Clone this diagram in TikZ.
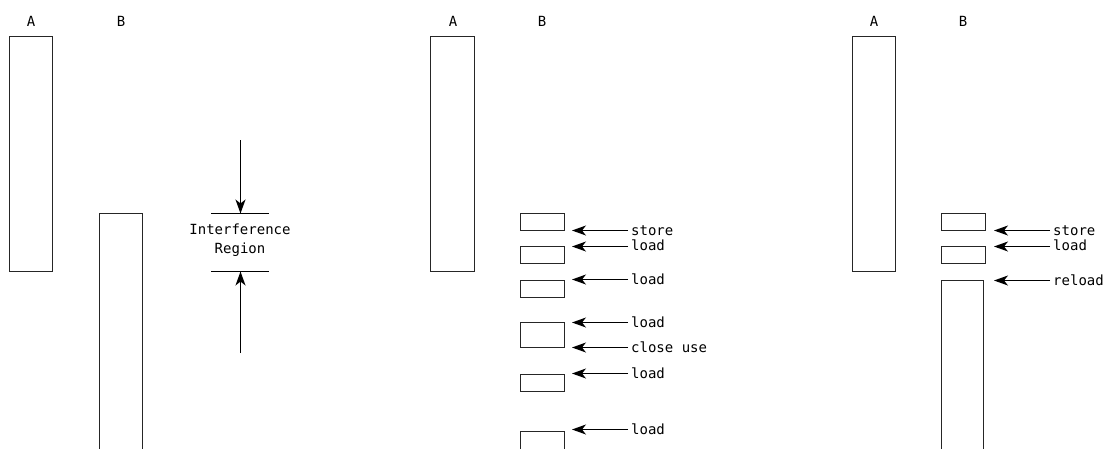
\documentclass[tikz,border=0pt]{standalone}
\usepackage{fontspec}
\setmainfont{DejaVu Sans Mono}
\usetikzlibrary{arrows.meta}
\tikzset{
  box/.style={draw=black!85, line width=1pt},
  arr/.style={line width=1.1pt, -{Stealth[length=14pt,width=10pt,inset=4pt]}},
  tick/.style={line width=1pt},
  lbl/.style={font=\fontsize{14}{17}\selectfont, inner sep=0pt},
  note/.style={font=\fontsize{14}{17}\selectfont, inner xsep=3pt, inner ysep=0pt, anchor=base west},
}
\begin{document}
\begin{tikzpicture}[x=1pt,y=-1pt]
\useasboundingbox (0,0) rectangle (1107,448);
\clip (0,0) rectangle (1107,448);
% ---------- panel 1 ----------
\node[lbl, anchor=base] (a1) at (31,26) {A};
\node[lbl, anchor=base] (b1) at (121,26) {B};
\draw[box] (9.5,36.5) rectangle (52.5,271.5);
\draw[box] (99.5,460) -- (99.5,213.5) -- (142.5,213.5) -- (142.5,460);
\coordinate (top) at (240.5,140);
\coordinate (bot) at (240.5,353);
\coordinate (u) at (240.5,213.5);
\coordinate (l) at (240.5,271.5);
\draw[tick] (211,213.5) -- (269,213.5);
\draw[tick] (211,271.5) -- (269,271.5);
\draw[arr] (top) -- (u);
\draw[arr] (bot) -- (l);
\node[lbl, anchor=base] (ir1) at (240,234) {Interference};
\node[lbl, anchor=base] (ir2) at (240,253) {Region};
% ---------- panel 2 ----------
\node[lbl, anchor=base] (a2) at (453,26) {A};
\node[lbl, anchor=base] (b2) at (542,26) {B};
\draw[box] (430.5,36.5) rectangle (474.5,271.5);
\draw[box] (520.5,213.5) rectangle (564.5,230.5);
\draw[box] (520.5,246.5) rectangle (564.5,263.5);
\draw[box] (520.5,280.5) rectangle (564.5,297.5);
\draw[box] (520.5,322.5) rectangle (564.5,347.5);
\draw[box] (520.5,374.5) rectangle (564.5,391.5);
\draw[box] (520.5,460) -- (520.5,431.5) -- (564.5,431.5) -- (564.5,460);
\foreach \n/\y/\t/\dy in {p1/230.5/store/5,p2/246.5/load/3.5,p3/279.5/load/4.5,p4/322.5/load/4.5,p5/347.5/close use/4.7,p6/373.5/load/4.5,p7/429.5/load/4.5}{
  \coordinate (\n t) at (572,\y);
  \node[note] (\n) at (628,\y+\dy) {\t};
  \draw[arr] (\n.west |- \n t) -- (\n t);
}
% ---------- panel 3 ----------
\node[lbl, anchor=base] (a3) at (874,26) {A};
\node[lbl, anchor=base] (b3) at (963,26) {B};
\draw[box] (852.5,36.5) rectangle (895.5,271.5);
\draw[box] (941.5,213.5) rectangle (985.5,230.5);
\draw[box] (941.5,246.5) rectangle (985.5,263.5);
\draw[box] (941.5,460) -- (941.5,280.5) -- (983.5,280.5) -- (983.5,460);
\foreach \n/\y/\t/\dy in {q1/230.5/store/5,q2/246.5/load/3.5,q3/280.5/reload/4.5}{
  \coordinate (\n t) at (994,\y);
  \node[note] (\n) at (1050,\y+\dy) {\t};
  \draw[arr] (\n.west |- \n t) -- (\n t);
}
\end{tikzpicture}
\end{document}
